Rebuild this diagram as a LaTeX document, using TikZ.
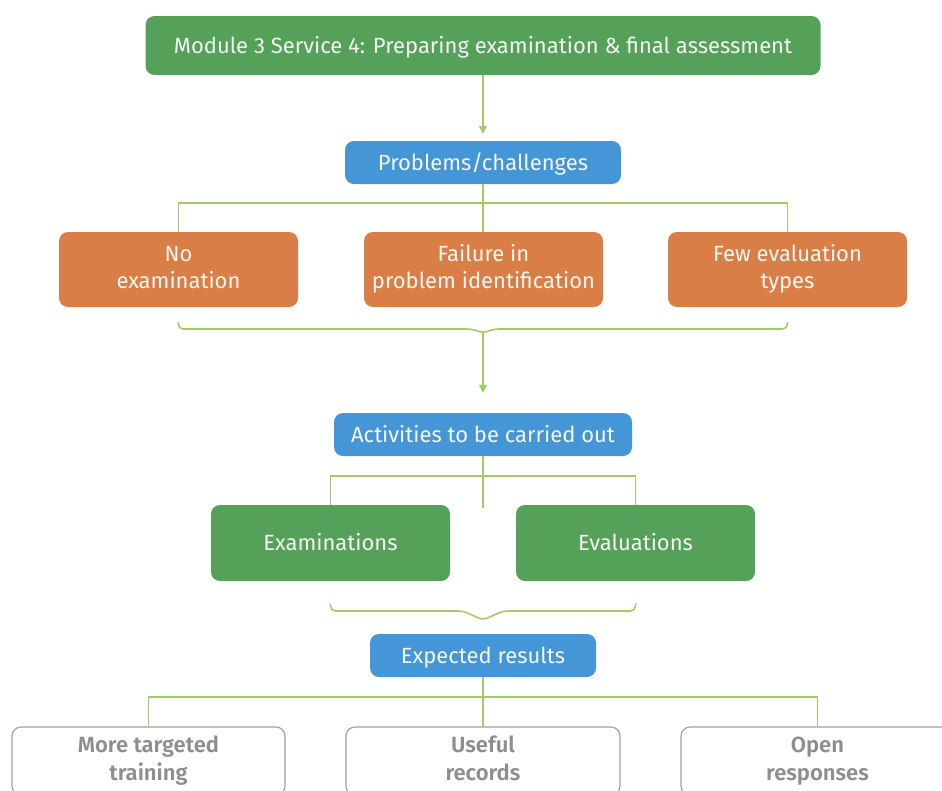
\documentclass[tikz,border=0pt]{standalone}
\usepackage{fontspec}
\setmainfont{Fira Sans}
\newfontfamily\semibold{Fira Sans SemiBold}
\usetikzlibrary{arrows.meta,calc}
\definecolor{boxgreen}{HTML}{55A15A}
\definecolor{boxblue}{HTML}{4596D6}
\definecolor{boxorange}{HTML}{DA7E47}
\definecolor{linkgreen}{HTML}{A2CC63}
\definecolor{txtgray}{HTML}{8E8E8E}
\definecolor{edgegray}{HTML}{A0A0A0}
\definecolor{txtlight}{HTML}{F4F7F2}
\newcommand\twolines[2]{\strut #1\\\strut #2}
\tikzset{
  box/.style={rounded corners=9pt, inner sep=0pt, align=center,
    text=txtlight, font=\fontsize{22}{27.5}\selectfont},
  oneline/.style={text height=15pt, text depth=0pt},
  greenbox/.style={box, fill=boxgreen},
  bluebox/.style={box, fill=boxblue},
  orangebox/.style={box, fill=boxorange},
  resultbox/.style={box, draw=edgegray, line width=1.2pt, fill=white,
    text=txtgray, font=\fontsize{22}{27.5}\selectfont\semibold},
  link/.style={draw=linkgreen, line width=1.6pt},
  linkarrow/.style={link, -{Triangle[length=8pt,width=8pt]}},
  bracelink/.style={link, rounded corners=5pt}
}
\begin{document}
\begin{tikzpicture}[x=1pt,y=-1pt]
\useasboundingbox (0,0) rectangle (942,790);
\clip (0,0) rectangle (942,790);

% top level
\node[greenbox, oneline, minimum width=675pt, minimum height=59pt] (top) at (483,45.5)
  {Module 3 Service 4: Preparing examination \& final assessment};
\node[bluebox, oneline, minimum width=276pt, minimum height=43pt] (prob) at (483,162.5)
  {Problems/challenges};

% problems
\node[orangebox, minimum width=239pt, minimum height=75pt] (p1) at (178.5,269.5)
  {\twolines{No}{examination}};
\node[orangebox, minimum width=239pt, minimum height=75pt] (p2) at (483.5,269.5)
  {\twolines{Failure in}{problem identification}};
\node[orangebox, minimum width=239pt, minimum height=75pt] (p3) at (787.5,269.5)
  {\twolines{Few evaluation}{types}};

% activities
\node[bluebox, oneline, minimum width=298pt, minimum height=43pt] (act) at (483,434.5)
  {Activities to be carried out};
\node[greenbox, oneline, minimum width=239pt, minimum height=76pt] (a1) at (330.5,543)
  {Examinations};
\node[greenbox, oneline, minimum width=239pt, minimum height=76pt] (a2) at (635.5,543)
  {Evaluations};

% results
\node[bluebox, oneline, minimum width=226pt, minimum height=43pt] (res) at (483,655.5)
  {Expected results};
\node[resultbox, minimum width=273pt, minimum height=68pt] (r1) at (148.5,761)
  {\twolines{More targeted}{training}};
\node[resultbox, minimum width=274pt, minimum height=68pt] (r2) at (483,761)
  {\twolines{Useful}{records}};
\node[resultbox, minimum width=273pt, minimum height=68pt] (r3) at (817.5,761)
  {\twolines{Open}{responses}};

% connectors: top to problems header
\draw[linkarrow, shorten >=7pt] (top.south) -- (top.south |- prob.north);

% problems header fan-out
\coordinate (pbar) at (483,203);
\draw[link] (prob.south) -- (prob.south |- p2.north);
\draw[link] (p1.north) |- (pbar) -| (p3.north);

% brace collecting the problems
\coordinate (ptip) at (483,333);
\draw[bracelink] ($(p1.south)+(0,15)$) -- (178,329) -- (472,329) -- (ptip)
  -- (494,329) -- (787.5,329) -- ($(p3.south)+(0,15)$);
\draw[linkarrow, shorten >=20pt] (ptip) -- (ptip |- act.north);

% activities fan-out
\coordinate (abar) at (483,476);
\draw[link] (act.south) -- (483,508);
\draw[link] (a1.north) |- (abar) -| (a2.north);

% brace collecting the activities
\coordinate (atip) at (483,620);
\draw[bracelink] ($(a1.south)+(0,25)$) -- (330.5,611) -- (463,611) -- (atip)
  -- (503,611) -- (635.5,611) -- ($(a2.south)+(0,25)$);

% results fan-out
\coordinate (rbar) at (483,697);
\draw[link] (res.south) -- (res.south |- r2.north);
\draw[link] (r1.north) |- (rbar) -| (r3.north);
\end{tikzpicture}
\end{document}
